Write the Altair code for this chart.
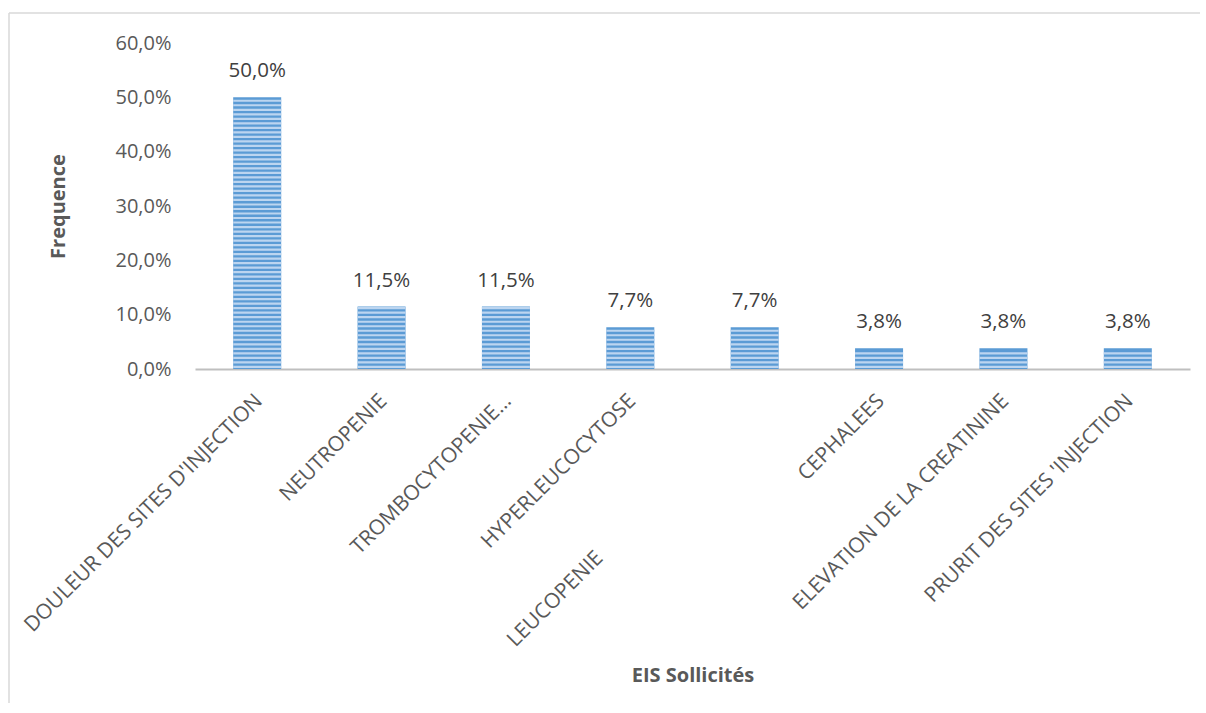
import altair as alt
import pandas as pd

# ---- data ----
categories = [
    "DOULEUR DES SITES D'INJECTION",
    "NEUTROPENIE",
    "TROMBOCYTOPENIE…",
    "HYPERLEUCOCYTOSE",
    "LEUCOPENIE",
    "CEPHALEES",
    "ELEVATION DE LA CREATININE",
    "PRURIT DES SITES 'INJECTION",
]
values = [0.500, 0.115, 0.115, 0.077, 0.077, 0.038, 0.038, 0.038]
y_ticks = [0.0, 0.1, 0.2, 0.3, 0.4, 0.5, 0.6]
staggered = ["LEUCOPENIE"]  # label pushed further down in the reference

df = pd.DataFrame({
    "cat": categories,
    "value": values,
    "stagger": [c in staggered for c in categories],
})

FONT = "Open Sans"
GREY_TXT = "#595959"
BAR = "#5B9BD5"
STRIPE = "#BCD5F0"

x_axis = alt.X(
    "cat:N", sort=categories, title="EIS Sollicités",
    scale=alt.Scale(paddingInner=0.614, paddingOuter=0.307),
    axis=alt.Axis(
        labels=False, ticks=False, grid=False,
        domainColor="#BFBFBF", domainWidth=2.2,
        titleFont=FONT, titleFontSize=20,
        titleFontWeight="bold", titleColor=GREY_TXT, titlePadding=296,
    ),
)
x_plain = alt.X("cat:N", sort=categories, title="EIS Sollicités")

y_axis = alt.Y(
    "value:Q", title="Frequence",
    scale=alt.Scale(domain=[0, 0.6]),
    axis=alt.Axis(
        values=y_ticks, grid=False, domain=False, ticks=False,
        labelExpr="replace(format(datum.value, '.1%'), '.', ',')",
        labelFont=FONT, labelFontSize=20, labelColor=GREY_TXT, labelPadding=24,
        titleFont=FONT, titleFontSize=20,
        titleFontWeight="bold", titleColor=GREY_TXT, titlePadding=46,
    ),
)

bars = alt.Chart(df).mark_bar(color=BAR).encode(x=x_axis, y=y_axis)

stripes = (
    alt.Chart(df)
    .transform_calculate(value="sequence(0.004, datum.value - 0.002, 0.0083)")
    .transform_flatten(["value"])
    .mark_tick(color=STRIPE, thickness=2.2, size=48, opacity=1, orient="horizontal")
    .encode(x=x_plain, y=alt.Y("value:Q", title="Frequence"))
)

value_labels = (
    alt.Chart(df)
    .transform_calculate(t="replace(format(datum.value, '.1%'), '.', ',')")
    .mark_text(font=FONT, fontSize=20.5, color="#404040", baseline="alphabetic", dy=-20)
    .encode(x=x_plain, y=alt.Y("value:Q", title="Frequence"), text="t:N")
)

cat_labels = (
    alt.Chart(df)
    .transform_filter("!datum.stagger")
    .mark_text(font=FONT, fontSize=21, color=GREY_TXT, angle=315,
               align="right", baseline="middle", dx=-19, dy=22)
    .encode(x=x_plain, y=alt.YDatum(0, title="Frequence"), text="cat:N")
)

cat_labels_low = (
    alt.Chart(df)
    .transform_filter("datum.stagger")
    .mark_text(font=FONT, fontSize=21, color=GREY_TXT, angle=315,
               align="right", baseline="middle", dx=-241, dy=22)
    .encode(x=x_plain, y=alt.YDatum(0, title="Frequence"), text="cat:N")
)

one = pd.DataFrame({"k": [0]})
border_top = alt.Chart(one).mark_rule(color="#D9D9D9", strokeWidth=1.5).encode(
    x=alt.value(-186), x2=alt.value(1005), y=alt.value(-30))
border_left = alt.Chart(one).mark_rule(color="#D9D9D9", strokeWidth=1.5).encode(
    x=alt.value(-186), y=alt.value(-30), y2=alt.value(660))

chart = (
    alt.layer(bars, stripes, value_labels, cat_labels, cat_labels_low, border_top, border_left)
    .properties(width=995, height=326,
                padding={"left": 8, "top": 12, "right": 0, "bottom": 0},
                background="white")
    .configure_view(stroke=None)
)

chart.save("out.html", embed_options={"renderer": "svg", "actions": False})
